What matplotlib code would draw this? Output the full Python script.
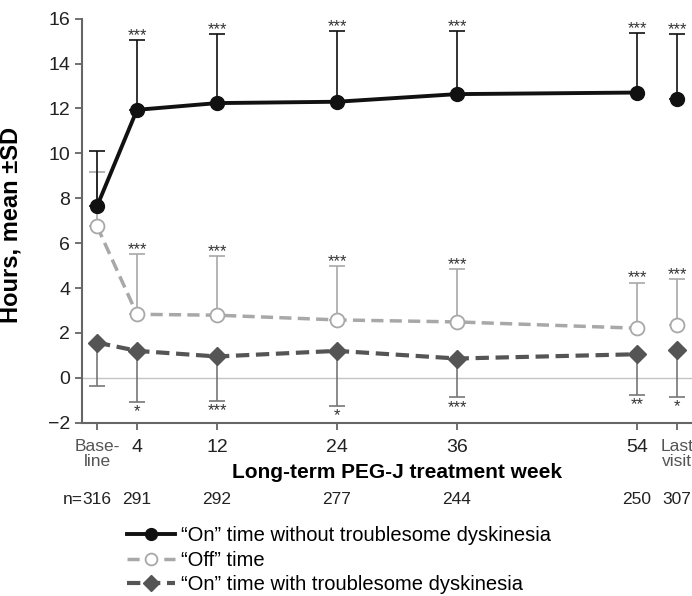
import matplotlib
matplotlib.use("Agg")
import matplotlib.pyplot as plt
import matplotlib.transforms as mtrans
import numpy as np

plt.rcParams['font.family'] = ['Liberation Sans', 'DejaVu Sans']

# x positions on the week axis (last visit drawn just after week 54)
x_pos = [0, 4, 12, 24, 36, 54, 58]
tick_labels = ["Base-\nline", "4", "12", "24", "36", "54", "Last\nvisit"]
n_counts = ["316", "291", "292", "277", "244", "250", "307"]

# "On" time without troublesome dyskinesia
on_good = [7.64, 11.94, 12.24, 12.30, 12.64, 12.71, 12.44]
on_good_top = [10.09, 15.05, 15.30, 15.45, 15.45, 15.35, 15.30]
on_good_sig = ["", "***", "***", "***", "***", "***", "***"]

# "Off" time
off = [6.76, 2.83, 2.79, 2.58, 2.49, 2.21, 2.34]
off_top = [9.16, 5.50, 5.42, 4.98, 4.83, 4.24, 4.39]
off_sig = ["", "***", "***", "***", "***", "***", "***"]

# "On" time with troublesome dyskinesia
on_bad = [1.57, 1.20, 0.95, 1.20, 0.86, 1.05, 1.24]
on_bad_bottom = [-0.38, -1.07, -1.02, -1.24, -0.87, -0.75, -0.84]
on_bad_sig = ["", "*", "***", "*", "***", "**", "*"]

c_black = "#111111"
c_off = "#a8a8a8"
c_bad = "#555555"
c_spine = "#666666"

fig = plt.figure(figsize=(6.92, 5.96), dpi=100)
ax = fig.add_axes([82 / 692, 1 - 422.7 / 596, 610 / 692, 404 / 596])

x = np.array(x_pos)
a_good, a_good_top = np.array(on_good), np.array(on_good_top)
a_off, a_off_top = np.array(off), np.array(off_top)
a_bad, a_bad_bot = np.array(on_bad), np.array(on_bad_bottom)
zeros = np.zeros(len(x))

ax.axhline(0, color="#c4c4c4", lw=1.0, zorder=1)

# error bars (one-sided)
ax.errorbar(x, a_off, yerr=[zeros, a_off_top - a_off], fmt="none",
            ecolor=c_off, elinewidth=1.2, capsize=6, capthick=1.2, zorder=2)
ax.errorbar(x, a_bad, yerr=[a_bad - a_bad_bot, zeros], fmt="none",
            ecolor="#777777", elinewidth=1.2, capsize=6, capthick=1.2, zorder=2)
ax.errorbar(x, a_good, yerr=[zeros, a_good_top - a_good], fmt="none",
            ecolor=c_black, elinewidth=1.2, capsize=6, capthick=1.2, zorder=3)

# lines (last visit point stands alone)
l_bad, = ax.plot(x[:-1], a_bad[:-1], ls=(0, (3.2, 1.6)), lw=3, color=c_bad,
                 marker="D", ms=9, mfc=c_bad, mec=c_bad, zorder=4)
ax.plot(x[-1], a_bad[-1], ls="none", marker="D", ms=9, mfc=c_bad, mec=c_bad, zorder=4)
l_off, = ax.plot(x[:-1], a_off[:-1], ls=(0, (3.5, 1.8)), lw=2.5, color=c_off,
                 marker="o", ms=10, mfc="white", mec=c_off, mew=1.3, zorder=5)
ax.plot(x[-1], a_off[-1], ls="none", marker="o", ms=10, mfc="white", mec=c_off,
        mew=1.3, zorder=5)
l_good, = ax.plot(x[:-1], a_good[:-1], ls="-", lw=2.8, color=c_black,
                  marker="o", ms=10, mfc=c_black, mec=c_black, zorder=6)
ax.plot(x[-1], a_good[-1], ls="none", marker="o", ms=10, mfc=c_black, mec=c_black, zorder=6)

# significance stars
for xi, top, s in zip(x, a_good_top, on_good_sig):
    if s:
        ax.annotate(s, (xi, top), xytext=(0, -2), textcoords="offset points",
                    ha="center", va="bottom", fontsize=12, color="#333333")
for xi, top, s in zip(x, a_off_top, off_sig):
    if s:
        ax.annotate(s, (xi, top), xytext=(0, -2), textcoords="offset points",
                    ha="center", va="bottom", fontsize=12, color="#333333")
for xi, bot, s in zip(x, a_bad_bot, on_bad_sig):
    if s:
        ax.annotate(s, (xi, bot), xytext=(0, -2), textcoords="offset points",
                    ha="center", va="top", fontsize=12, color="#333333")

ax.set_xlim(-1.5, 59.5)
ax.set_ylim(-2, 16)
ax.set_yticks(np.arange(-2, 17, 2))
ax.set_yticklabels(["\u22122" if v < 0 else str(v) for v in range(-2, 17, 2)])
ax.set_xticks(x)
ax.set_xticklabels(tick_labels)

for side in ["top", "right"]:
    ax.spines[side].set_visible(False)
for side in ["left", "bottom"]:
    ax.spines[side].set_color(c_spine)
    ax.spines[side].set_linewidth(1.5)
ax.tick_params(axis="both", color=c_spine, width=1.3, length=5, labelsize=14,
               labelcolor="#222222")
ax.tick_params(axis="x", pad=7)

for i in (0, len(tick_labels) - 1):
    t = ax.get_xticklabels()[i]
    t.set_fontfamily(["Liberation Sans Narrow", "Liberation Sans"])
    t.set_fontsize(12.5)
    t.set_color("#555555")
    t.set_linespacing(1.0)

ax.set_ylabel("Hours, mean \u00b1SD", fontsize=17, fontweight="bold")
ax.yaxis.set_label_coords(-0.098, 0.489)
ax.set_xlabel("Long-term PEG-J treatment week", fontsize=15, fontweight="bold")
ax.xaxis.set_label_coords((397 - 82) / 610, -0.1245)
ax.xaxis.label.set_va("center")

# n per visit
trans = mtrans.blended_transform_factory(ax.transData, ax.transAxes)
n_y = (422.7 - 499) / 404
for xi, n in zip(x, n_counts):
    ax.text(xi, n_y, n, transform=trans, ha="center", va="center", fontsize=12.5,
            color="#222222")
ax.annotate("n=", (x[0], n_y), xycoords=trans, xytext=(-10, 0),
            textcoords="offset points", ha="right", va="center", fontsize=12.5,
            color="#222222")

fig.legend([l_good, l_off, l_bad],
           ["\u201cOn\u201d time without troublesome dyskinesia",
            "\u201cOff\u201d time",
            "\u201cOn\u201d time with troublesome dyskinesia"],
           loc="upper left", bbox_to_anchor=(127 / 692, 1 - 526 / 596),
           frameon=False, fontsize=14.5, handlelength=2.4, handletextpad=0.3,
           labelspacing=0.28, borderpad=0, borderaxespad=0, markerscale=0.85)

fig.savefig("out.png", dpi=100)
